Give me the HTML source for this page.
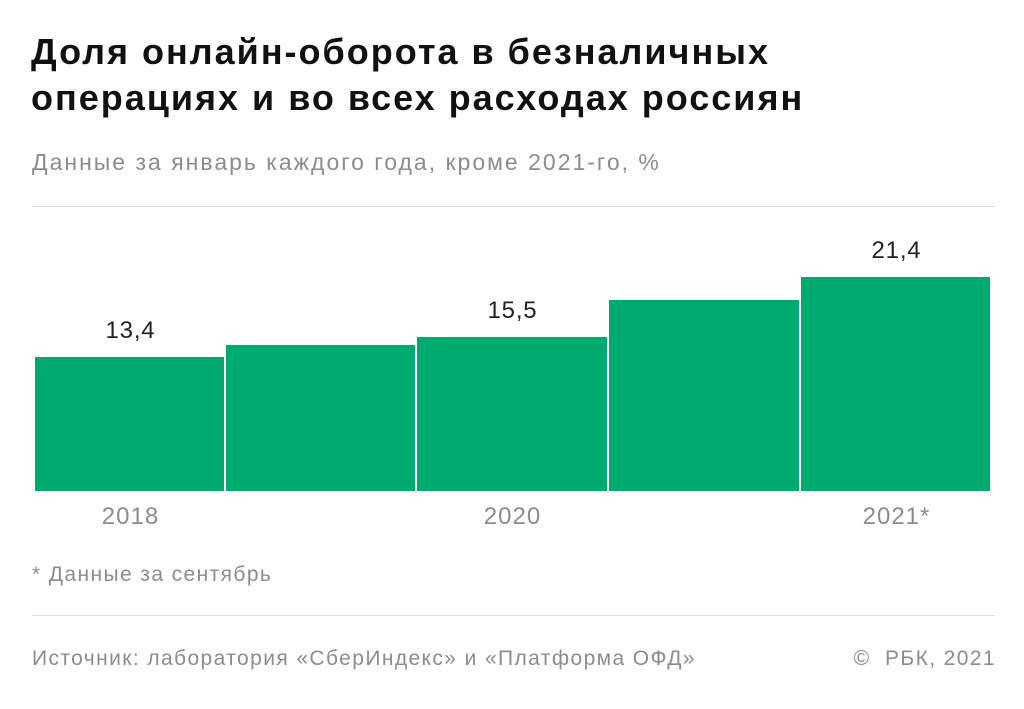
<!DOCTYPE html>
<html><head><meta charset="utf-8"><style>
body{margin:0;width:1024px;height:709px;background:#fff;font-family:"Liberation Sans",sans-serif;position:relative;overflow:hidden}
.a{position:absolute;white-space:nowrap}
.t{left:31px;font-size:36px;letter-spacing:2px;font-weight:bold;color:#111;line-height:46px}
.g{color:#8c8c8c}
.bar{position:absolute;background:#00aa6c}
.v{font-size:24px;letter-spacing:0.8px;color:#222;text-align:center;width:191px}
.y{font-size:24px;letter-spacing:1px;color:#8c8c8c;text-align:center;width:191px;top:503px}
.hr{position:absolute;left:32px;width:963px;height:1px;background:#ddd}
.s{font-size:21px;letter-spacing:1.4px}
</style></head><body>
<div class="a t" style="top:29px">Доля онлайн-оборота в безналичных</div>
<div class="a t" style="top:75px">операциях и во всех расходах россиян</div>
<div class="a g" style="left:32px;top:149px;font-size:23px;letter-spacing:2px">Данные за январь каждого года, кроме 2021-го, %</div>
<div class="hr" style="top:206px"></div>
<div class="bar" style="left:35px;width:189px;top:357px;height:134px"></div>
<div class="bar" style="left:226px;width:189px;top:345px;height:146px"></div>
<div class="bar" style="left:417px;width:190px;top:337px;height:154px"></div>
<div class="bar" style="left:609px;width:190px;top:300px;height:191px"></div>
<div class="bar" style="left:801px;width:189px;top:277px;height:214px"></div>
<div class="a v" style="left:35px;top:317px">13,4</div>
<div class="a v" style="left:417px;top:297px">15,5</div>
<div class="a v" style="left:801px;top:237px">21,4</div>
<div class="a y" style="left:35px">2018</div>
<div class="a y" style="left:417px">2020</div>
<div class="a y" style="left:801px">2021*</div>
<div class="a g s" style="left:32px;top:563px">* Данные за сентябрь</div>
<div class="hr" style="top:615px"></div>
<div class="a g s" style="left:32px;top:647px">Источник: лаборатория «СберИндекс» и «Платформа ОФД»</div>
<div class="a g s" style="right:28px;top:647px">©&nbsp; РБК, 2021</div>
</body></html>
